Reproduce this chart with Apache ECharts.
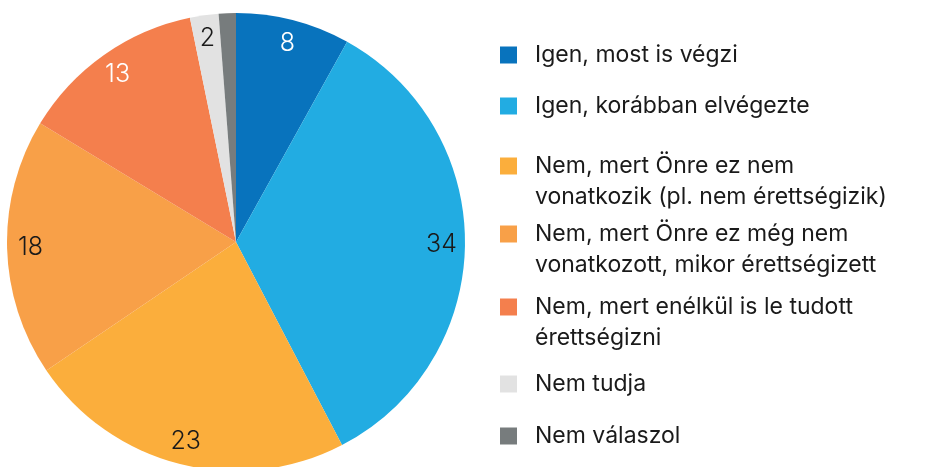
<!DOCTYPE html>
<html>
<head>
<meta charset="utf-8">
<script src="https://cdn.jsdelivr.net/npm/echarts@6/dist/echarts.min.js"></script>
<style>
  html, body { margin: 0; padding: 0; background: #ffffff; }
  #chart { width: 925px; height: 467px; }
</style>
</head>
<body>
<div id="chart"></div>
<script>
// Answer categories (legend text, with manual line breaks)
const categories = [
  'Igen, most is végzi',
  'Igen, korábban elvégezte',
  'Nem, mert Önre ez nem\nvonatkozik (pl. nem érettségizik)',
  'Nem, mert Önre ez még nem\nvonatkozott, mikor érettségizett',
  'Nem, mert enélkül is le tudott\nérettségizni',
  'Nem tudja',
  'Nem válaszol'
];
// Share of answers (%)
const values = [8, 34, 23, 18, 13, 2, 1.2];
// Which slices carry a printed value
const showValue = [true, true, true, true, true, true, false];

const colors = ['#0873BD', '#22ACE2', '#FBAE3C', '#F8A048', '#F47F4D', '#E2E2E2', '#777C7D'];
const labelColors = ['#ffffff', '#1a1a1a', '#1a1a1a', '#1a1a1a', '#ffffff', '#1a1a1a', '#1a1a1a'];

// Vertical centre of each legend marker (aligned with the first text line)
const legendCenters = [55, 106, 166, 234, 307, 384, 436];

const FONT = 'Inter';
const LH = 31;

const pieData = categories.map((name, i) => ({
  name: name,
  value: values[i],
  itemStyle: { color: colors[i] }
}));

const labelData = categories.map((name, i) => ({
  name: name,
  value: values[i],
  label: {
    show: showValue[i],
    color: labelColors[i]
  }
}));

// One legend block per answer; multi-line names get a blank leading line so the
// marker sits beside the first line of text.
const legends = categories.map((name, i) => {
  const lines = name.split('\n');
  const multi = lines.length > 1;
  const top = multi ? legendCenters[i] - 1.5 * LH : legendCenters[i] - LH / 2;
  return {
    orient: 'vertical',
    left: 500,
    top: top,
    padding: 0,
    itemWidth: 17,
    itemHeight: 17,
    selectedMode: false,
    icon: 'rect',
    data: [name],
    formatter: function (n) {
      const body = n.split('\n').map(l => '{t|' + l + '}').join('\n');
      return multi ? '\n' + body : body;
    },
    textStyle: {
      fontFamily: FONT,
      fontSize: 23,
      color: '#1a1a1a',
      lineHeight: LH,
      rich: {
        t: {
          fontFamily: FONT,
          fontSize: 23,
          color: '#1a1a1a',
          lineHeight: LH,
          padding: [0, 0, 0, 13]
        }
      }
    }
  };
});

const chart = echarts.init(document.getElementById('chart'), null, { renderer: 'canvas' });
chart.setOption({
  animation: false,
  backgroundColor: '#ffffff',
  legend: legends,
  series: [
    {
      type: 'pie',
      center: [236, 242],
      radius: [0, 229],
      startAngle: 90,
      clockwise: true,
      silent: true,
      label: { show: false },
      labelLine: { show: false },
      data: pieData
    },
    {
      // transparent ring that places the value labels near the rim
      type: 'pie',
      center: [236, 242],
      radius: [176, 229],
      startAngle: 90,
      clockwise: true,
      silent: true,
      itemStyle: { color: 'rgba(0,0,0,0)' },
      labelLine: { show: false },
      label: {
        position: 'inside',
        formatter: '{c}',
        fontFamily: FONT,
        fontSize: 25,
        fontWeight: 300
      },
      data: labelData
    }
  ]
});
</script>
</body>
</html>
